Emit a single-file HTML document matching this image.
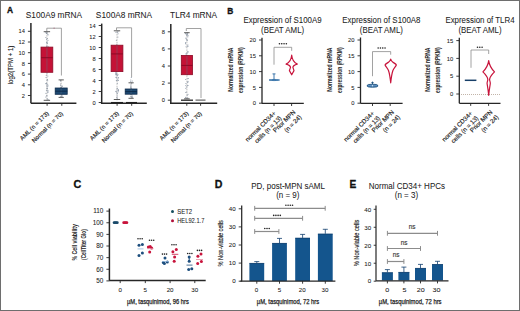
<!DOCTYPE html>
<html><head><meta charset="utf-8"><style>
html,body{margin:0;padding:0;background:#fff;}
body{width:520px;height:311px;overflow:hidden;}
svg{display:block;font-family:"Liberation Sans", sans-serif;}
</style></head><body>
<svg width="520" height="311" viewBox="0 0 520 311">
<rect x="0" y="0" width="520" height="311" fill="#fff"/>
<text x="6.9" y="12.8" font-size="8.4" text-anchor="start" font-weight="bold" fill="#111"  stroke="#111" stroke-width="0.3">A</text>
<text x="227.2" y="13.9" font-size="8.4" text-anchor="start" font-weight="bold" fill="#111"  stroke="#111" stroke-width="0.3">B</text>
<text x="73.6" y="188.1" font-size="10.8" text-anchor="start" font-weight="bold" fill="#111"  stroke="#111" stroke-width="0.3">C</text>
<text x="214.8" y="188.3" font-size="10.6" text-anchor="start" font-weight="bold" fill="#111"  stroke="#111" stroke-width="0.3">D</text>
<text x="349.4" y="188.3" font-size="10.2" text-anchor="start" font-weight="bold" fill="#111"  stroke="#111" stroke-width="0.3">E</text>
<text x="53.9" y="17.9" font-size="9.13" text-anchor="middle" font-weight="normal" fill="#222"  stroke="#222" stroke-width="0.05" textLength="56.28" lengthAdjust="spacingAndGlyphs">S100A9 mRNA</text>
<line x1="30.9" y1="23" x2="30.9" y2="103.2" stroke="#262626" stroke-width="1.5" />
<line x1="27.9" y1="95.5" x2="30.9" y2="95.5" stroke="#262626" stroke-width="0.9" />
<text x="24.9" y="97.609" font-size="5.7" text-anchor="end" font-weight="normal" fill="#222"  stroke="#222" stroke-width="0.06">2</text>
<line x1="27.9" y1="84.80000000000001" x2="30.9" y2="84.80000000000001" stroke="#262626" stroke-width="0.9" />
<text x="24.9" y="86.909" font-size="5.7" text-anchor="end" font-weight="normal" fill="#222"  stroke="#222" stroke-width="0.06">4</text>
<line x1="27.9" y1="74.10000000000001" x2="30.9" y2="74.10000000000001" stroke="#262626" stroke-width="0.9" />
<text x="24.9" y="76.209" font-size="5.7" text-anchor="end" font-weight="normal" fill="#222"  stroke="#222" stroke-width="0.06">6</text>
<line x1="27.9" y1="63.400000000000006" x2="30.9" y2="63.400000000000006" stroke="#262626" stroke-width="0.9" />
<text x="24.9" y="65.509" font-size="5.7" text-anchor="end" font-weight="normal" fill="#222"  stroke="#222" stroke-width="0.06">8</text>
<line x1="27.9" y1="52.7" x2="30.9" y2="52.7" stroke="#262626" stroke-width="0.9" />
<text x="24.9" y="54.809000000000005" font-size="5.7" text-anchor="end" font-weight="normal" fill="#222"  stroke="#222" stroke-width="0.06">10</text>
<line x1="27.9" y1="42.000000000000014" x2="30.9" y2="42.000000000000014" stroke="#262626" stroke-width="0.9" />
<text x="24.9" y="44.109000000000016" font-size="5.7" text-anchor="end" font-weight="normal" fill="#222"  stroke="#222" stroke-width="0.06">12</text>
<line x1="27.9" y1="31.30000000000001" x2="30.9" y2="31.30000000000001" stroke="#262626" stroke-width="0.9" />
<text x="24.9" y="33.40900000000001" font-size="5.7" text-anchor="end" font-weight="normal" fill="#222"  stroke="#222" stroke-width="0.06">14</text>
<circle cx="48.00" cy="40.27" r="0.55" fill="#8f9bab"/>
<circle cx="46.46" cy="83.70" r="0.55" fill="#8f9bab"/>
<circle cx="46.97" cy="65.19" r="0.55" fill="#8f9bab"/>
<circle cx="47.85" cy="75.96" r="0.55" fill="#8f9bab"/>
<circle cx="45.87" cy="37.48" r="0.55" fill="#8f9bab"/>
<circle cx="46.93" cy="88.67" r="0.55" fill="#8f9bab"/>
<circle cx="45.81" cy="83.60" r="0.55" fill="#8f9bab"/>
<circle cx="47.68" cy="61.73" r="0.55" fill="#8f9bab"/>
<circle cx="48.26" cy="46.78" r="0.55" fill="#8f9bab"/>
<circle cx="45.88" cy="93.20" r="0.55" fill="#8f9bab"/>
<circle cx="47.21" cy="32.76" r="0.55" fill="#8f9bab"/>
<circle cx="46.79" cy="95.80" r="0.55" fill="#8f9bab"/>
<circle cx="46.90" cy="45.95" r="0.55" fill="#8f9bab"/>
<circle cx="46.38" cy="33.00" r="0.55" fill="#8f9bab"/>
<circle cx="47.09" cy="61.21" r="0.55" fill="#8f9bab"/>
<circle cx="46.40" cy="47.08" r="0.55" fill="#8f9bab"/>
<circle cx="46.99" cy="46.10" r="0.55" fill="#8f9bab"/>
<circle cx="45.86" cy="50.99" r="0.55" fill="#8f9bab"/>
<circle cx="47.25" cy="88.79" r="0.55" fill="#8f9bab"/>
<circle cx="46.28" cy="75.32" r="0.55" fill="#8f9bab"/>
<circle cx="48.04" cy="99.49" r="0.55" fill="#8f9bab"/>
<circle cx="46.67" cy="39.34" r="0.55" fill="#8f9bab"/>
<circle cx="47.65" cy="80.78" r="0.55" fill="#8f9bab"/>
<circle cx="46.90" cy="95.61" r="0.55" fill="#8f9bab"/>
<circle cx="47.54" cy="88.27" r="0.55" fill="#8f9bab"/>
<circle cx="47.33" cy="51.93" r="0.55" fill="#8f9bab"/>
<circle cx="48.00" cy="91.89" r="0.55" fill="#8f9bab"/>
<circle cx="47.33" cy="65.86" r="0.55" fill="#8f9bab"/>
<circle cx="46.43" cy="33.38" r="0.55" fill="#8f9bab"/>
<circle cx="46.88" cy="86.02" r="0.55" fill="#8f9bab"/>
<circle cx="47.23" cy="42.94" r="0.55" fill="#8f9bab"/>
<circle cx="47.55" cy="79.51" r="0.55" fill="#8f9bab"/>
<circle cx="46.94" cy="56.85" r="0.55" fill="#8f9bab"/>
<circle cx="47.82" cy="66.08" r="0.55" fill="#8f9bab"/>
<circle cx="46.82" cy="66.94" r="0.55" fill="#8f9bab"/>
<circle cx="45.88" cy="64.79" r="0.55" fill="#8f9bab"/>
<circle cx="47.63" cy="34.00" r="0.55" fill="#8f9bab"/>
<circle cx="47.34" cy="98.84" r="0.55" fill="#8f9bab"/>
<circle cx="46.24" cy="58.16" r="0.55" fill="#8f9bab"/>
<circle cx="48.35" cy="65.65" r="0.55" fill="#8f9bab"/>
<circle cx="47.20" cy="84.17" r="0.55" fill="#8f9bab"/>
<circle cx="46.40" cy="90.36" r="0.55" fill="#8f9bab"/>
<circle cx="48.28" cy="66.45" r="0.55" fill="#8f9bab"/>
<circle cx="46.99" cy="70.87" r="0.55" fill="#8f9bab"/>
<circle cx="47.22" cy="49.58" r="0.55" fill="#8f9bab"/>
<circle cx="45.81" cy="97.04" r="0.55" fill="#8f9bab"/>
<circle cx="47.93" cy="85.07" r="0.55" fill="#8f9bab"/>
<circle cx="47.73" cy="92.15" r="0.55" fill="#8f9bab"/>
<circle cx="47.15" cy="86.83" r="0.55" fill="#8f9bab"/>
<circle cx="46.91" cy="69.73" r="0.55" fill="#8f9bab"/>
<circle cx="48.06" cy="34.87" r="0.55" fill="#8f9bab"/>
<circle cx="46.32" cy="70.33" r="0.55" fill="#8f9bab"/>
<circle cx="47.06" cy="65.83" r="0.55" fill="#8f9bab"/>
<circle cx="46.70" cy="55.62" r="0.55" fill="#8f9bab"/>
<circle cx="47.42" cy="68.16" r="0.55" fill="#8f9bab"/>
<circle cx="46.99" cy="73.26" r="0.55" fill="#8f9bab"/>
<circle cx="46.40" cy="32.93" r="0.55" fill="#8f9bab"/>
<circle cx="47.32" cy="43.23" r="0.55" fill="#8f9bab"/>
<circle cx="47.88" cy="90.41" r="0.55" fill="#8f9bab"/>
<circle cx="47.92" cy="86.00" r="0.55" fill="#8f9bab"/>
<circle cx="47.99" cy="48.62" r="0.55" fill="#8f9bab"/>
<circle cx="46.02" cy="77.44" r="0.55" fill="#8f9bab"/>
<circle cx="45.84" cy="32.15" r="0.55" fill="#8f9bab"/>
<circle cx="46.45" cy="83.14" r="0.55" fill="#8f9bab"/>
<circle cx="47.42" cy="38.55" r="0.55" fill="#8f9bab"/>
<circle cx="45.98" cy="54.77" r="0.55" fill="#8f9bab"/>
<circle cx="47.17" cy="42.01" r="0.55" fill="#8f9bab"/>
<circle cx="46.51" cy="42.60" r="0.55" fill="#8f9bab"/>
<circle cx="46.98" cy="80.10" r="0.55" fill="#8f9bab"/>
<circle cx="47.03" cy="53.22" r="0.55" fill="#8f9bab"/>
<line x1="46.9" y1="31.7" x2="46.9" y2="47.1" stroke="#9a9a9a" stroke-width="0.8" stroke-dasharray="0.8 0.8"/>
<line x1="46.9" y1="72.3" x2="46.9" y2="100.3" stroke="#9a9a9a" stroke-width="0.8" stroke-dasharray="0.8 0.8"/>
<line x1="43.699999999999996" y1="31.7" x2="50.1" y2="31.7" stroke="#4a4a4a" stroke-width="0.9" />
<line x1="43.699999999999996" y1="100.3" x2="50.1" y2="100.3" stroke="#4a4a4a" stroke-width="0.9" />
<rect x="41.0" y="47.1" width="11.8" height="25.199999999999996" fill="#c41236" stroke="#8c0a26" stroke-width="0.8"/>
<line x1="46.9" y1="47.6" x2="46.9" y2="71.8" stroke="#607080" stroke-width="1.8" stroke-opacity="0.25"/>
<line x1="41.0" y1="57.7" x2="52.8" y2="57.7" stroke="#8c0a26" stroke-width="1.0" />
<circle cx="62.21" cy="96.25" r="0.55" fill="#8f9bab"/>
<circle cx="60.65" cy="80.96" r="0.55" fill="#8f9bab"/>
<circle cx="61.82" cy="94.20" r="0.55" fill="#8f9bab"/>
<circle cx="61.05" cy="91.39" r="0.55" fill="#8f9bab"/>
<circle cx="61.59" cy="90.30" r="0.55" fill="#8f9bab"/>
<circle cx="60.79" cy="89.88" r="0.55" fill="#8f9bab"/>
<circle cx="61.21" cy="87.32" r="0.55" fill="#8f9bab"/>
<circle cx="62.29" cy="92.29" r="0.55" fill="#8f9bab"/>
<circle cx="61.48" cy="96.14" r="0.55" fill="#8f9bab"/>
<circle cx="60.98" cy="87.56" r="0.55" fill="#8f9bab"/>
<circle cx="60.55" cy="80.61" r="0.55" fill="#8f9bab"/>
<circle cx="61.07" cy="87.90" r="0.55" fill="#8f9bab"/>
<circle cx="62.11" cy="86.46" r="0.55" fill="#8f9bab"/>
<circle cx="61.51" cy="88.94" r="0.55" fill="#8f9bab"/>
<circle cx="60.54" cy="84.01" r="0.55" fill="#8f9bab"/>
<circle cx="60.75" cy="85.53" r="0.55" fill="#8f9bab"/>
<circle cx="62.30" cy="88.67" r="0.55" fill="#8f9bab"/>
<circle cx="60.83" cy="91.47" r="0.55" fill="#8f9bab"/>
<circle cx="61.93" cy="95.19" r="0.55" fill="#8f9bab"/>
<circle cx="62.13" cy="92.48" r="0.55" fill="#8f9bab"/>
<circle cx="61.92" cy="92.97" r="0.55" fill="#8f9bab"/>
<circle cx="62.27" cy="86.01" r="0.55" fill="#8f9bab"/>
<circle cx="60.79" cy="96.35" r="0.55" fill="#8f9bab"/>
<circle cx="61.79" cy="92.82" r="0.55" fill="#8f9bab"/>
<circle cx="61.45" cy="87.84" r="0.55" fill="#8f9bab"/>
<line x1="61.2" y1="79.9" x2="61.2" y2="88" stroke="#9a9a9a" stroke-width="0.8" stroke-dasharray="0.8 0.8"/>
<line x1="61.2" y1="94.3" x2="61.2" y2="97.4" stroke="#9a9a9a" stroke-width="0.8" stroke-dasharray="0.8 0.8"/>
<line x1="58.6" y1="79.9" x2="63.800000000000004" y2="79.9" stroke="#4a4a4a" stroke-width="0.9" />
<line x1="58.6" y1="97.4" x2="63.800000000000004" y2="97.4" stroke="#4a4a4a" stroke-width="0.9" />
<rect x="55.2" y="88" width="12.0" height="6.299999999999997" fill="#1d4870" stroke="#0f2c4c" stroke-width="0.8"/>
<line x1="61.2" y1="88.5" x2="61.2" y2="93.8" stroke="#607080" stroke-width="1.8" stroke-opacity="0.25"/>
<line x1="55.2" y1="91.2" x2="67.2" y2="91.2" stroke="#0f2c4c" stroke-width="1.0" />
<line x1="30.9" y1="103.2" x2="76.4" y2="103.2" stroke="#262626" stroke-width="1.5" />
<line x1="47.1" y1="103.2" x2="47.1" y2="105.8" stroke="#262626" stroke-width="0.9" />
<line x1="61.8" y1="103.2" x2="61.8" y2="105.8" stroke="#262626" stroke-width="0.9" />
<line x1="46.8" y1="28.2" x2="61.4" y2="28.2" stroke="#8a8a8a" stroke-width="0.8" />
<line x1="61.4" y1="28.2" x2="61.4" y2="75.5" stroke="#8a8a8a" stroke-width="0.8" />
<line x1="46.8" y1="28.2" x2="46.8" y2="31" stroke="#8a8a8a" stroke-width="0.8" />
<circle cx="54.10" cy="28.2" r="0.7" fill="#b08090"/>
<g transform="translate(49.2 113.8) rotate(-45)">
<text x="0" y="0.0" font-size="6.0" text-anchor="end" fill="#222" stroke="#222" stroke-width="0.15">AML (n = 173)</text>
</g>
<g transform="translate(63.4 114.0) rotate(-45)">
<text x="0" y="0.0" font-size="5.9" text-anchor="end" fill="#222" stroke="#222" stroke-width="0.15">Normal (n = 70)</text>
</g>
<text x="12.9" y="65.0" font-size="6.4" text-anchor="middle" font-weight="normal" fill="#222" transform="rotate(-90 12.9 65.0)" textLength="38.6" lengthAdjust="spacingAndGlyphs" stroke="#222" stroke-width="0.12">log2(TPM + 1)</text>
<text x="124" y="17.9" font-size="9.13" text-anchor="middle" font-weight="normal" fill="#222"  stroke="#222" stroke-width="0.05" textLength="56.28" lengthAdjust="spacingAndGlyphs">S100A8 mRNA</text>
<line x1="101.7" y1="23.6" x2="101.7" y2="103.2" stroke="#262626" stroke-width="1.5" />
<line x1="98.7" y1="102.5" x2="101.7" y2="102.5" stroke="#262626" stroke-width="0.9" />
<text x="95.7" y="104.609" font-size="5.7" text-anchor="end" font-weight="normal" fill="#222"  stroke="#222" stroke-width="0.06">0</text>
<line x1="98.7" y1="91.5" x2="101.7" y2="91.5" stroke="#262626" stroke-width="0.9" />
<text x="95.7" y="93.609" font-size="5.7" text-anchor="end" font-weight="normal" fill="#222"  stroke="#222" stroke-width="0.06">2</text>
<line x1="98.7" y1="80.5" x2="101.7" y2="80.5" stroke="#262626" stroke-width="0.9" />
<text x="95.7" y="82.609" font-size="5.7" text-anchor="end" font-weight="normal" fill="#222"  stroke="#222" stroke-width="0.06">4</text>
<line x1="98.7" y1="69.5" x2="101.7" y2="69.5" stroke="#262626" stroke-width="0.9" />
<text x="95.7" y="71.609" font-size="5.7" text-anchor="end" font-weight="normal" fill="#222"  stroke="#222" stroke-width="0.06">6</text>
<line x1="98.7" y1="58.5" x2="101.7" y2="58.5" stroke="#262626" stroke-width="0.9" />
<text x="95.7" y="60.609" font-size="5.7" text-anchor="end" font-weight="normal" fill="#222"  stroke="#222" stroke-width="0.06">8</text>
<line x1="98.7" y1="47.5" x2="101.7" y2="47.5" stroke="#262626" stroke-width="0.9" />
<text x="95.7" y="49.609" font-size="5.7" text-anchor="end" font-weight="normal" fill="#222"  stroke="#222" stroke-width="0.06">10</text>
<line x1="98.7" y1="36.5" x2="101.7" y2="36.5" stroke="#262626" stroke-width="0.9" />
<text x="95.7" y="38.609" font-size="5.7" text-anchor="end" font-weight="normal" fill="#222"  stroke="#222" stroke-width="0.06">12</text>
<line x1="98.7" y1="25.5" x2="101.7" y2="25.5" stroke="#262626" stroke-width="0.9" />
<text x="95.7" y="27.609" font-size="5.7" text-anchor="end" font-weight="normal" fill="#222"  stroke="#222" stroke-width="0.06">14</text>
<circle cx="117.21" cy="47.27" r="0.55" fill="#8f9bab"/>
<circle cx="117.37" cy="56.40" r="0.55" fill="#8f9bab"/>
<circle cx="115.97" cy="74.10" r="0.55" fill="#8f9bab"/>
<circle cx="117.98" cy="31.71" r="0.55" fill="#8f9bab"/>
<circle cx="116.41" cy="48.75" r="0.55" fill="#8f9bab"/>
<circle cx="117.02" cy="99.70" r="0.55" fill="#8f9bab"/>
<circle cx="117.04" cy="88.68" r="0.55" fill="#8f9bab"/>
<circle cx="116.19" cy="75.02" r="0.55" fill="#8f9bab"/>
<circle cx="118.06" cy="74.73" r="0.55" fill="#8f9bab"/>
<circle cx="117.73" cy="67.00" r="0.55" fill="#8f9bab"/>
<circle cx="115.97" cy="77.26" r="0.55" fill="#8f9bab"/>
<circle cx="117.34" cy="83.27" r="0.55" fill="#8f9bab"/>
<circle cx="115.88" cy="51.65" r="0.55" fill="#8f9bab"/>
<circle cx="117.03" cy="90.69" r="0.55" fill="#8f9bab"/>
<circle cx="118.08" cy="80.54" r="0.55" fill="#8f9bab"/>
<circle cx="118.19" cy="80.22" r="0.55" fill="#8f9bab"/>
<circle cx="117.88" cy="58.13" r="0.55" fill="#8f9bab"/>
<circle cx="118.23" cy="61.57" r="0.55" fill="#8f9bab"/>
<circle cx="116.05" cy="91.62" r="0.55" fill="#8f9bab"/>
<circle cx="116.36" cy="40.21" r="0.55" fill="#8f9bab"/>
<circle cx="116.93" cy="97.61" r="0.55" fill="#8f9bab"/>
<circle cx="116.58" cy="74.16" r="0.55" fill="#8f9bab"/>
<circle cx="116.80" cy="65.90" r="0.55" fill="#8f9bab"/>
<circle cx="117.32" cy="55.08" r="0.55" fill="#8f9bab"/>
<circle cx="118.15" cy="71.23" r="0.55" fill="#8f9bab"/>
<circle cx="118.22" cy="77.99" r="0.55" fill="#8f9bab"/>
<circle cx="118.38" cy="90.06" r="0.55" fill="#8f9bab"/>
<circle cx="116.22" cy="77.25" r="0.55" fill="#8f9bab"/>
<circle cx="118.31" cy="90.36" r="0.55" fill="#8f9bab"/>
<circle cx="117.28" cy="93.40" r="0.55" fill="#8f9bab"/>
<circle cx="116.35" cy="80.20" r="0.55" fill="#8f9bab"/>
<circle cx="117.29" cy="88.35" r="0.55" fill="#8f9bab"/>
<circle cx="115.96" cy="50.52" r="0.55" fill="#8f9bab"/>
<circle cx="118.37" cy="89.89" r="0.55" fill="#8f9bab"/>
<circle cx="117.88" cy="36.93" r="0.55" fill="#8f9bab"/>
<circle cx="116.19" cy="59.20" r="0.55" fill="#8f9bab"/>
<circle cx="117.80" cy="51.14" r="0.55" fill="#8f9bab"/>
<circle cx="115.91" cy="91.20" r="0.55" fill="#8f9bab"/>
<circle cx="115.92" cy="73.33" r="0.55" fill="#8f9bab"/>
<circle cx="116.66" cy="80.52" r="0.55" fill="#8f9bab"/>
<circle cx="118.35" cy="91.76" r="0.55" fill="#8f9bab"/>
<circle cx="118.40" cy="65.78" r="0.55" fill="#8f9bab"/>
<circle cx="116.00" cy="52.23" r="0.55" fill="#8f9bab"/>
<circle cx="115.88" cy="72.30" r="0.55" fill="#8f9bab"/>
<circle cx="116.86" cy="44.46" r="0.55" fill="#8f9bab"/>
<circle cx="116.21" cy="73.04" r="0.55" fill="#8f9bab"/>
<circle cx="118.06" cy="33.74" r="0.55" fill="#8f9bab"/>
<circle cx="118.29" cy="52.52" r="0.55" fill="#8f9bab"/>
<circle cx="116.78" cy="92.85" r="0.55" fill="#8f9bab"/>
<circle cx="117.15" cy="62.66" r="0.55" fill="#8f9bab"/>
<circle cx="117.35" cy="75.36" r="0.55" fill="#8f9bab"/>
<circle cx="117.41" cy="69.50" r="0.55" fill="#8f9bab"/>
<circle cx="117.12" cy="95.89" r="0.55" fill="#8f9bab"/>
<circle cx="117.67" cy="60.64" r="0.55" fill="#8f9bab"/>
<circle cx="116.58" cy="47.24" r="0.55" fill="#8f9bab"/>
<circle cx="117.15" cy="98.46" r="0.55" fill="#8f9bab"/>
<circle cx="115.83" cy="68.75" r="0.55" fill="#8f9bab"/>
<circle cx="117.31" cy="59.53" r="0.55" fill="#8f9bab"/>
<circle cx="117.40" cy="32.19" r="0.55" fill="#8f9bab"/>
<circle cx="115.96" cy="74.55" r="0.55" fill="#8f9bab"/>
<circle cx="117.01" cy="74.21" r="0.55" fill="#8f9bab"/>
<circle cx="116.72" cy="77.81" r="0.55" fill="#8f9bab"/>
<circle cx="117.72" cy="79.72" r="0.55" fill="#8f9bab"/>
<circle cx="115.96" cy="32.34" r="0.55" fill="#8f9bab"/>
<circle cx="118.30" cy="77.58" r="0.55" fill="#8f9bab"/>
<circle cx="116.99" cy="48.18" r="0.55" fill="#8f9bab"/>
<circle cx="116.63" cy="71.81" r="0.55" fill="#8f9bab"/>
<circle cx="116.61" cy="55.99" r="0.55" fill="#8f9bab"/>
<circle cx="117.35" cy="56.35" r="0.55" fill="#8f9bab"/>
<circle cx="116.78" cy="51.59" r="0.55" fill="#8f9bab"/>
<line x1="117.0" y1="30.8" x2="117.0" y2="45.2" stroke="#9a9a9a" stroke-width="0.8" stroke-dasharray="0.8 0.8"/>
<line x1="117.0" y1="71.6" x2="117.0" y2="99.5" stroke="#9a9a9a" stroke-width="0.8" stroke-dasharray="0.8 0.8"/>
<line x1="113.8" y1="30.8" x2="120.2" y2="30.8" stroke="#4a4a4a" stroke-width="0.9" />
<line x1="113.8" y1="99.5" x2="120.2" y2="99.5" stroke="#4a4a4a" stroke-width="0.9" />
<rect x="111.1" y="45.2" width="11.8" height="26.39999999999999" fill="#c41236" stroke="#8c0a26" stroke-width="0.8"/>
<line x1="117.0" y1="45.7" x2="117.0" y2="71.1" stroke="#607080" stroke-width="1.8" stroke-opacity="0.25"/>
<line x1="111.1" y1="53.9" x2="122.9" y2="53.9" stroke="#8c0a26" stroke-width="1.0" />
<circle cx="130.79" cy="81.43" r="0.55" fill="#8f9bab"/>
<circle cx="130.88" cy="85.11" r="0.55" fill="#8f9bab"/>
<circle cx="131.32" cy="77.53" r="0.55" fill="#8f9bab"/>
<circle cx="132.04" cy="97.11" r="0.55" fill="#8f9bab"/>
<circle cx="131.00" cy="93.60" r="0.55" fill="#8f9bab"/>
<circle cx="131.10" cy="88.34" r="0.55" fill="#8f9bab"/>
<circle cx="130.79" cy="79.97" r="0.55" fill="#8f9bab"/>
<circle cx="132.27" cy="80.93" r="0.55" fill="#8f9bab"/>
<circle cx="132.05" cy="95.07" r="0.55" fill="#8f9bab"/>
<circle cx="130.95" cy="94.41" r="0.55" fill="#8f9bab"/>
<circle cx="131.73" cy="83.13" r="0.55" fill="#8f9bab"/>
<circle cx="132.14" cy="92.83" r="0.55" fill="#8f9bab"/>
<circle cx="130.76" cy="96.24" r="0.55" fill="#8f9bab"/>
<circle cx="131.81" cy="89.93" r="0.55" fill="#8f9bab"/>
<circle cx="130.92" cy="87.64" r="0.55" fill="#8f9bab"/>
<circle cx="130.76" cy="86.89" r="0.55" fill="#8f9bab"/>
<circle cx="132.16" cy="97.50" r="0.55" fill="#8f9bab"/>
<circle cx="131.14" cy="88.60" r="0.55" fill="#8f9bab"/>
<circle cx="131.63" cy="96.90" r="0.55" fill="#8f9bab"/>
<circle cx="132.13" cy="96.29" r="0.55" fill="#8f9bab"/>
<line x1="131.1" y1="82.8" x2="131.1" y2="89.0" stroke="#9a9a9a" stroke-width="0.8" stroke-dasharray="0.8 0.8"/>
<line x1="131.1" y1="94.2" x2="131.1" y2="98.3" stroke="#9a9a9a" stroke-width="0.8" stroke-dasharray="0.8 0.8"/>
<line x1="128.5" y1="82.8" x2="133.7" y2="82.8" stroke="#4a4a4a" stroke-width="0.9" />
<line x1="128.5" y1="98.3" x2="133.7" y2="98.3" stroke="#4a4a4a" stroke-width="0.9" />
<rect x="125.19999999999999" y="89.0" width="11.8" height="5.200000000000003" fill="#1d4870" stroke="#0f2c4c" stroke-width="0.8"/>
<line x1="131.1" y1="89.5" x2="131.1" y2="93.7" stroke="#607080" stroke-width="1.8" stroke-opacity="0.25"/>
<line x1="125.19999999999999" y1="91.6" x2="137.0" y2="91.6" stroke="#0f2c4c" stroke-width="1.0" />
<line x1="100.9" y1="103.2" x2="146.8" y2="103.2" stroke="#262626" stroke-width="1.5" />
<line x1="117.1" y1="103.2" x2="117.1" y2="105.8" stroke="#262626" stroke-width="0.9" />
<line x1="131.7" y1="103.2" x2="131.7" y2="105.8" stroke="#262626" stroke-width="0.9" />
<line x1="116.5" y1="27.8" x2="131.6" y2="27.8" stroke="#8a8a8a" stroke-width="0.8" />
<line x1="131.6" y1="27.8" x2="131.6" y2="77" stroke="#8a8a8a" stroke-width="0.8" />
<line x1="116.5" y1="27.8" x2="116.5" y2="30" stroke="#8a8a8a" stroke-width="0.8" />
<line x1="111" y1="102.6" x2="123" y2="102.6" stroke="#222" stroke-width="1.3" />
<line x1="126" y1="102.6" x2="137" y2="102.6" stroke="#222" stroke-width="1.3" />
<g transform="translate(119.19999999999999 113.8) rotate(-45)">
<text x="0" y="0.0" font-size="6.0" text-anchor="end" fill="#222" stroke="#222" stroke-width="0.15">AML (n = 173)</text>
</g>
<g transform="translate(133.29999999999998 114.0) rotate(-45)">
<text x="0" y="0.0" font-size="5.9" text-anchor="end" fill="#222" stroke="#222" stroke-width="0.15">Normal (n = 70)</text>
</g>
<text x="193.6" y="17.9" font-size="9.13" text-anchor="middle" font-weight="normal" fill="#222"  stroke="#222" stroke-width="0.05" textLength="47.04" lengthAdjust="spacingAndGlyphs">TLR4 mRNA</text>
<line x1="170.8" y1="23.9" x2="170.8" y2="103.2" stroke="#262626" stroke-width="1.5" />
<line x1="167.8" y1="100.2" x2="170.8" y2="100.2" stroke="#262626" stroke-width="0.9" />
<text x="164.8" y="102.309" font-size="5.7" text-anchor="end" font-weight="normal" fill="#222"  stroke="#222" stroke-width="0.06">0</text>
<line x1="167.8" y1="83.1" x2="170.8" y2="83.1" stroke="#262626" stroke-width="0.9" />
<text x="164.8" y="85.20899999999999" font-size="5.7" text-anchor="end" font-weight="normal" fill="#222"  stroke="#222" stroke-width="0.06">2</text>
<line x1="167.8" y1="66.0" x2="170.8" y2="66.0" stroke="#262626" stroke-width="0.9" />
<text x="164.8" y="68.109" font-size="5.7" text-anchor="end" font-weight="normal" fill="#222"  stroke="#222" stroke-width="0.06">4</text>
<line x1="167.8" y1="48.9" x2="170.8" y2="48.9" stroke="#262626" stroke-width="0.9" />
<text x="164.8" y="51.009" font-size="5.7" text-anchor="end" font-weight="normal" fill="#222"  stroke="#222" stroke-width="0.06">6</text>
<line x1="167.8" y1="31.799999999999997" x2="170.8" y2="31.799999999999997" stroke="#262626" stroke-width="0.9" />
<text x="164.8" y="33.909" font-size="5.7" text-anchor="end" font-weight="normal" fill="#222"  stroke="#222" stroke-width="0.06">8</text>
<circle cx="187.43" cy="74.11" r="0.55" fill="#8f9bab"/>
<circle cx="187.95" cy="85.48" r="0.55" fill="#8f9bab"/>
<circle cx="187.90" cy="81.83" r="0.55" fill="#8f9bab"/>
<circle cx="186.71" cy="34.91" r="0.55" fill="#8f9bab"/>
<circle cx="187.19" cy="95.26" r="0.55" fill="#8f9bab"/>
<circle cx="185.79" cy="92.46" r="0.55" fill="#8f9bab"/>
<circle cx="186.14" cy="63.96" r="0.55" fill="#8f9bab"/>
<circle cx="186.99" cy="68.89" r="0.55" fill="#8f9bab"/>
<circle cx="186.06" cy="33.87" r="0.55" fill="#8f9bab"/>
<circle cx="187.88" cy="51.45" r="0.55" fill="#8f9bab"/>
<circle cx="185.91" cy="83.54" r="0.55" fill="#8f9bab"/>
<circle cx="185.86" cy="85.61" r="0.55" fill="#8f9bab"/>
<circle cx="185.83" cy="73.75" r="0.55" fill="#8f9bab"/>
<circle cx="187.77" cy="33.12" r="0.55" fill="#8f9bab"/>
<circle cx="186.06" cy="46.82" r="0.55" fill="#8f9bab"/>
<circle cx="187.77" cy="97.84" r="0.55" fill="#8f9bab"/>
<circle cx="188.00" cy="52.09" r="0.55" fill="#8f9bab"/>
<circle cx="187.26" cy="68.59" r="0.55" fill="#8f9bab"/>
<circle cx="187.95" cy="46.52" r="0.55" fill="#8f9bab"/>
<circle cx="188.01" cy="78.58" r="0.55" fill="#8f9bab"/>
<circle cx="186.28" cy="91.99" r="0.55" fill="#8f9bab"/>
<circle cx="185.93" cy="56.84" r="0.55" fill="#8f9bab"/>
<circle cx="185.67" cy="42.62" r="0.55" fill="#8f9bab"/>
<circle cx="187.07" cy="52.89" r="0.55" fill="#8f9bab"/>
<circle cx="187.26" cy="33.22" r="0.55" fill="#8f9bab"/>
<circle cx="186.31" cy="55.30" r="0.55" fill="#8f9bab"/>
<circle cx="186.75" cy="87.02" r="0.55" fill="#8f9bab"/>
<circle cx="186.75" cy="53.84" r="0.55" fill="#8f9bab"/>
<circle cx="185.65" cy="79.51" r="0.55" fill="#8f9bab"/>
<circle cx="185.56" cy="97.36" r="0.55" fill="#8f9bab"/>
<circle cx="187.70" cy="82.49" r="0.55" fill="#8f9bab"/>
<circle cx="187.55" cy="34.19" r="0.55" fill="#8f9bab"/>
<circle cx="187.00" cy="57.17" r="0.55" fill="#8f9bab"/>
<circle cx="185.62" cy="33.60" r="0.55" fill="#8f9bab"/>
<circle cx="187.98" cy="44.94" r="0.55" fill="#8f9bab"/>
<circle cx="187.46" cy="45.97" r="0.55" fill="#8f9bab"/>
<circle cx="187.95" cy="94.36" r="0.55" fill="#8f9bab"/>
<circle cx="186.42" cy="55.73" r="0.55" fill="#8f9bab"/>
<circle cx="187.52" cy="67.63" r="0.55" fill="#8f9bab"/>
<circle cx="187.45" cy="40.13" r="0.55" fill="#8f9bab"/>
<circle cx="187.74" cy="85.62" r="0.55" fill="#8f9bab"/>
<circle cx="187.96" cy="35.42" r="0.55" fill="#8f9bab"/>
<circle cx="186.39" cy="39.02" r="0.55" fill="#8f9bab"/>
<circle cx="187.89" cy="73.31" r="0.55" fill="#8f9bab"/>
<circle cx="187.90" cy="55.44" r="0.55" fill="#8f9bab"/>
<circle cx="186.31" cy="68.98" r="0.55" fill="#8f9bab"/>
<circle cx="185.96" cy="53.91" r="0.55" fill="#8f9bab"/>
<circle cx="185.89" cy="38.16" r="0.55" fill="#8f9bab"/>
<circle cx="188.09" cy="78.49" r="0.55" fill="#8f9bab"/>
<circle cx="185.63" cy="43.66" r="0.55" fill="#8f9bab"/>
<circle cx="186.89" cy="98.12" r="0.55" fill="#8f9bab"/>
<circle cx="186.12" cy="59.79" r="0.55" fill="#8f9bab"/>
<circle cx="187.65" cy="72.20" r="0.55" fill="#8f9bab"/>
<circle cx="186.60" cy="63.07" r="0.55" fill="#8f9bab"/>
<circle cx="187.88" cy="36.68" r="0.55" fill="#8f9bab"/>
<circle cx="186.78" cy="35.16" r="0.55" fill="#8f9bab"/>
<circle cx="185.84" cy="88.34" r="0.55" fill="#8f9bab"/>
<circle cx="187.97" cy="81.29" r="0.55" fill="#8f9bab"/>
<circle cx="187.55" cy="74.61" r="0.55" fill="#8f9bab"/>
<circle cx="186.63" cy="40.04" r="0.55" fill="#8f9bab"/>
<line x1="186.9" y1="32.7" x2="186.9" y2="55.4" stroke="#9a9a9a" stroke-width="0.8" stroke-dasharray="0.8 0.8"/>
<line x1="186.9" y1="74.7" x2="186.9" y2="98.8" stroke="#9a9a9a" stroke-width="0.8" stroke-dasharray="0.8 0.8"/>
<line x1="184.1" y1="32.7" x2="189.70000000000002" y2="32.7" stroke="#4a4a4a" stroke-width="0.9" />
<line x1="184.1" y1="98.8" x2="189.70000000000002" y2="98.8" stroke="#4a4a4a" stroke-width="0.9" />
<rect x="181.3" y="55.4" width="11.2" height="19.300000000000004" fill="#c41236" stroke="#8c0a26" stroke-width="0.8"/>
<line x1="186.9" y1="55.9" x2="186.9" y2="74.2" stroke="#607080" stroke-width="1.8" stroke-opacity="0.25"/>
<line x1="181.3" y1="65.4" x2="192.5" y2="65.4" stroke="#8c0a26" stroke-width="1.0" />
<line x1="181" y1="100.2" x2="193" y2="100.2" stroke="#222" stroke-width="1.3" />
<line x1="195.5" y1="100.1" x2="205.5" y2="100.1" stroke="#444" stroke-width="1.0" />
<line x1="170" y1="103.2" x2="217.2" y2="103.2" stroke="#262626" stroke-width="1.5" />
<line x1="186.8" y1="103.2" x2="186.8" y2="105.8" stroke="#262626" stroke-width="0.9" />
<line x1="200.6" y1="103.2" x2="200.6" y2="105.8" stroke="#262626" stroke-width="0.9" />
<line x1="186.3" y1="28.5" x2="201" y2="28.5" stroke="#8a8a8a" stroke-width="0.8" />
<line x1="201" y1="28.5" x2="201" y2="98" stroke="#8a8a8a" stroke-width="0.8" />
<line x1="186.3" y1="28.5" x2="186.3" y2="31" stroke="#8a8a8a" stroke-width="0.8" />
<g transform="translate(188.9 113.8) rotate(-45)">
<text x="0" y="0.0" font-size="6.0" text-anchor="end" fill="#222" stroke="#222" stroke-width="0.15">AML (n = 173)</text>
</g>
<g transform="translate(202.2 114.0) rotate(-45)">
<text x="0" y="0.0" font-size="5.9" text-anchor="end" fill="#222" stroke="#222" stroke-width="0.15">Normal (n = 70)</text>
</g>
<text x="282.6" y="22.9" font-size="8.85" text-anchor="middle" font-weight="normal" fill="#222"  stroke="#222" stroke-width="0.05" textLength="78.17" lengthAdjust="spacingAndGlyphs">Expression of S100A9</text>
<text x="282.6" y="32.9" font-size="8.85" text-anchor="middle" font-weight="normal" fill="#222"  stroke="#222" stroke-width="0.05" textLength="43.17" lengthAdjust="spacingAndGlyphs">(BEAT AML)</text>
<line x1="262" y1="37.7" x2="262" y2="103.4" stroke="#262626" stroke-width="1.3" />
<line x1="259.0" y1="103.2" x2="262" y2="103.2" stroke="#262626" stroke-width="0.9" />
<text x="256.0" y="105.346" font-size="5.8" text-anchor="end" font-weight="normal" fill="#222"  stroke="#222" stroke-width="0.06">0</text>
<line x1="259.0" y1="87.4" x2="262" y2="87.4" stroke="#262626" stroke-width="0.9" />
<text x="256.0" y="89.546" font-size="5.8" text-anchor="end" font-weight="normal" fill="#222"  stroke="#222" stroke-width="0.06">5</text>
<line x1="259.0" y1="71.6" x2="262" y2="71.6" stroke="#262626" stroke-width="0.9" />
<text x="256.0" y="73.746" font-size="5.8" text-anchor="end" font-weight="normal" fill="#222"  stroke="#222" stroke-width="0.06">10</text>
<line x1="259.0" y1="55.8" x2="262" y2="55.8" stroke="#262626" stroke-width="0.9" />
<text x="256.0" y="57.946" font-size="5.8" text-anchor="end" font-weight="normal" fill="#222"  stroke="#222" stroke-width="0.06">15</text>
<line x1="259.0" y1="40.0" x2="262" y2="40.0" stroke="#262626" stroke-width="0.9" />
<text x="256.0" y="42.146" font-size="5.8" text-anchor="end" font-weight="normal" fill="#222"  stroke="#222" stroke-width="0.06">20</text>
<line x1="262" y1="103.4" x2="303.8" y2="103.4" stroke="#262626" stroke-width="1.3" />
<line x1="274" y1="103.4" x2="274" y2="106.0" stroke="#262626" stroke-width="0.9" />
<line x1="291.6" y1="103.4" x2="291.6" y2="106.0" stroke="#262626" stroke-width="0.9" />
<line x1="274" y1="64.7" x2="274" y2="47.3" stroke="#8a8a8a" stroke-width="0.8" />
<line x1="274" y1="47.3" x2="291.7" y2="47.3" stroke="#8a8a8a" stroke-width="0.8" />
<line x1="291.7" y1="47.3" x2="291.7" y2="50.8" stroke="#8a8a8a" stroke-width="0.8" />
<circle cx="279.45" cy="43.7" r="0.8" fill="#222"/>
<circle cx="281.75" cy="43.7" r="0.8" fill="#222"/>
<circle cx="284.05" cy="43.7" r="0.8" fill="#222"/>
<circle cx="286.35" cy="43.7" r="0.8" fill="#222"/>
<path d="M291.7,55.2 C292.0,58.6 292.9,62 297.3,64.1 C293.5,65 293.0,66.2 292.9,67.4 L294.0,70.6 L291.7,74.8 L289.4,70.6 L290.5,67.4 C290.4,66.2 289.9,65 286.09999999999997,64.1 C290.5,62 291.4,58.6 291.7,55.2 Z" fill="#fff" stroke="#c8143c" stroke-width="1.2" stroke-linejoin="round"/>
<line x1="274" y1="80" x2="274" y2="73.9" stroke="#2a6aa3" stroke-width="0.9" />
<line x1="272.5" y1="73.9" x2="275.5" y2="73.9" stroke="#2a6aa3" stroke-width="0.9" />
<path d="M269,80 C272,79.2 276,79.2 279.6,80 C276,80.8 272,80.8 269,80 Z" fill="#2a6aa3" stroke="#2a6aa3" stroke-width="0.8"/>
<text x="233.1" y="69.6" font-size="7.0" text-anchor="middle" font-weight="bold" fill="#222" transform="rotate(-90 233.1 69.6)" textLength="44.3" lengthAdjust="spacingAndGlyphs">Normalized mRNA</text>
<text x="243.2" y="70.2" font-size="7.0" text-anchor="middle" font-weight="bold" fill="#222" transform="rotate(-90 243.2 70.2)" textLength="45.6" lengthAdjust="spacingAndGlyphs">expression (RPKM)</text>
<g transform="translate(276.2 113.7) rotate(-45)">
<text x="0" y="0.0" font-size="6.2" text-anchor="end" fill="#222" stroke="#222" stroke-width="0.15">normal CD34+</text>
<text x="0.8" y="7.5" font-size="6.2" text-anchor="end" fill="#222" stroke="#222" stroke-width="0.15">cells (n = 13)</text>
</g>
<g transform="translate(295.8 112.6) rotate(-45)">
<text x="0" y="0.0" font-size="6.2" text-anchor="end" fill="#222" stroke="#222" stroke-width="0.15">Prior MPN</text>
<text x="0.8" y="7.8" font-size="6.2" text-anchor="end" fill="#222" stroke="#222" stroke-width="0.15">(n = 24)</text>
</g>
<text x="381.4" y="22.9" font-size="8.85" text-anchor="middle" font-weight="normal" fill="#222"  stroke="#222" stroke-width="0.05" textLength="78.17" lengthAdjust="spacingAndGlyphs">Expression of S100A8</text>
<text x="381.4" y="32.9" font-size="8.85" text-anchor="middle" font-weight="normal" fill="#222"  stroke="#222" stroke-width="0.05" textLength="43.17" lengthAdjust="spacingAndGlyphs">(BEAT AML)</text>
<line x1="360.5" y1="37.5" x2="360.5" y2="103.4" stroke="#262626" stroke-width="1.3" />
<line x1="357.5" y1="103.2" x2="360.5" y2="103.2" stroke="#262626" stroke-width="0.9" />
<text x="354.5" y="105.346" font-size="5.8" text-anchor="end" font-weight="normal" fill="#222"  stroke="#222" stroke-width="0.06">0</text>
<line x1="357.5" y1="87.4" x2="360.5" y2="87.4" stroke="#262626" stroke-width="0.9" />
<text x="354.5" y="89.546" font-size="5.8" text-anchor="end" font-weight="normal" fill="#222"  stroke="#222" stroke-width="0.06">5</text>
<line x1="357.5" y1="71.6" x2="360.5" y2="71.6" stroke="#262626" stroke-width="0.9" />
<text x="354.5" y="73.746" font-size="5.8" text-anchor="end" font-weight="normal" fill="#222"  stroke="#222" stroke-width="0.06">10</text>
<line x1="357.5" y1="55.8" x2="360.5" y2="55.8" stroke="#262626" stroke-width="0.9" />
<text x="354.5" y="57.946" font-size="5.8" text-anchor="end" font-weight="normal" fill="#222"  stroke="#222" stroke-width="0.06">15</text>
<line x1="357.5" y1="40.0" x2="360.5" y2="40.0" stroke="#262626" stroke-width="0.9" />
<text x="354.5" y="42.146" font-size="5.8" text-anchor="end" font-weight="normal" fill="#222"  stroke="#222" stroke-width="0.06">20</text>
<line x1="360.5" y1="103.4" x2="402.6" y2="103.4" stroke="#262626" stroke-width="1.3" />
<line x1="372.5" y1="103.4" x2="372.5" y2="106.0" stroke="#262626" stroke-width="0.9" />
<line x1="390.2" y1="103.4" x2="390.2" y2="106.0" stroke="#262626" stroke-width="0.9" />
<line x1="372.5" y1="76.2" x2="372.5" y2="51.6" stroke="#8a8a8a" stroke-width="0.8" />
<line x1="372.5" y1="51.6" x2="390.7" y2="51.6" stroke="#8a8a8a" stroke-width="0.8" />
<line x1="390.7" y1="51.6" x2="390.7" y2="54.7" stroke="#8a8a8a" stroke-width="0.8" />
<circle cx="378.15" cy="48.0" r="0.8" fill="#222"/>
<circle cx="380.45" cy="48.0" r="0.8" fill="#222"/>
<circle cx="382.75" cy="48.0" r="0.8" fill="#222"/>
<circle cx="385.05" cy="48.0" r="0.8" fill="#222"/>
<path d="M390.7,59.2 C391.0,60.6 391.5,61.2 392.9,62.2 C394.9,63.4 396.3,64.2 396.3,65.0 C395.9,66.4 393.9,68 392.9,70.5 C391.9,73.5 391.2,78 390.7,82.8 C390.2,78 389.5,73.5 388.5,70.5 C387.5,68 385.5,66.4 385.09999999999997,65.0 C385.09999999999997,64.2 386.5,63.4 388.5,62.2 C389.9,61.2 390.4,60.6 390.7,59.2 Z" fill="#fff" stroke="#c8143c" stroke-width="1.2" stroke-linejoin="round"/>
<line x1="372.5" y1="81.6" x2="372.5" y2="84.5" stroke="#1c4f7c" stroke-width="0.9" />
<line x1="371.3" y1="82.6" x2="373.7" y2="82.6" stroke="#1c4f7c" stroke-width="0.8" />
<ellipse cx="372.5" cy="85.7" rx="5.6" ry="1.5" fill="#5b8fc0" stroke="#1c4f7c" stroke-width="0.9"/>
<circle cx="372.5" cy="85.7" r="0.6" fill="#dfeaf5"/>
<text x="331.6" y="69.6" font-size="7.0" text-anchor="middle" font-weight="bold" fill="#222" transform="rotate(-90 331.6 69.6)" textLength="44.3" lengthAdjust="spacingAndGlyphs">Normalized mRNA</text>
<text x="341.7" y="70.2" font-size="7.0" text-anchor="middle" font-weight="bold" fill="#222" transform="rotate(-90 341.7 70.2)" textLength="45.6" lengthAdjust="spacingAndGlyphs">expression (RPKM)</text>
<g transform="translate(374.7 113.7) rotate(-45)">
<text x="0" y="0.0" font-size="6.2" text-anchor="end" fill="#222" stroke="#222" stroke-width="0.15">normal CD34+</text>
<text x="0.8" y="7.5" font-size="6.2" text-anchor="end" fill="#222" stroke="#222" stroke-width="0.15">cells (n = 13)</text>
</g>
<g transform="translate(394.4 112.6) rotate(-45)">
<text x="0" y="0.0" font-size="6.2" text-anchor="end" fill="#222" stroke="#222" stroke-width="0.15">Prior MPN</text>
<text x="0.8" y="7.8" font-size="6.2" text-anchor="end" fill="#222" stroke="#222" stroke-width="0.15">(n = 24)</text>
</g>
<text x="480" y="22.9" font-size="8.85" text-anchor="middle" font-weight="normal" fill="#222"  stroke="#222" stroke-width="0.05" textLength="69.23" lengthAdjust="spacingAndGlyphs">Expression of TLR4</text>
<text x="480" y="32.9" font-size="8.85" text-anchor="middle" font-weight="normal" fill="#222"  stroke="#222" stroke-width="0.05" textLength="43.17" lengthAdjust="spacingAndGlyphs">(BEAT AML)</text>
<line x1="459.3" y1="37.7" x2="459.3" y2="103.3" stroke="#262626" stroke-width="1.3" />
<line x1="456.3" y1="94.0" x2="459.3" y2="94.0" stroke="#262626" stroke-width="0.9" />
<text x="453.3" y="96.146" font-size="5.8" text-anchor="end" font-weight="normal" fill="#222"  stroke="#222" stroke-width="0.06">0</text>
<line x1="456.3" y1="76.2" x2="459.3" y2="76.2" stroke="#262626" stroke-width="0.9" />
<text x="453.3" y="78.346" font-size="5.8" text-anchor="end" font-weight="normal" fill="#222"  stroke="#222" stroke-width="0.06">5</text>
<line x1="456.3" y1="58.4" x2="459.3" y2="58.4" stroke="#262626" stroke-width="0.9" />
<text x="453.3" y="60.546" font-size="5.8" text-anchor="end" font-weight="normal" fill="#222"  stroke="#222" stroke-width="0.06">10</text>
<line x1="456.3" y1="40.6" x2="459.3" y2="40.6" stroke="#262626" stroke-width="0.9" />
<text x="453.3" y="42.746" font-size="5.8" text-anchor="end" font-weight="normal" fill="#222"  stroke="#222" stroke-width="0.06">15</text>
<line x1="459.3" y1="103.3" x2="500.5" y2="103.3" stroke="#262626" stroke-width="1.3" />
<line x1="470.7" y1="103.3" x2="470.7" y2="105.89999999999999" stroke="#262626" stroke-width="0.9" />
<line x1="488.6" y1="103.3" x2="488.6" y2="105.89999999999999" stroke="#262626" stroke-width="0.9" />
<line x1="461" y1="94.5" x2="500.5" y2="94.5" stroke="#a89484" stroke-width="0.8" stroke-dasharray="0.9 1.1"/>
<line x1="471" y1="67.8" x2="471" y2="50" stroke="#8a8a8a" stroke-width="0.8" />
<line x1="471" y1="50" x2="488.7" y2="50" stroke="#8a8a8a" stroke-width="0.8" />
<line x1="488.7" y1="50" x2="488.7" y2="54" stroke="#8a8a8a" stroke-width="0.8" />
<circle cx="477.50" cy="47.2" r="0.8" fill="#222"/>
<circle cx="479.80" cy="47.2" r="0.8" fill="#222"/>
<circle cx="482.10" cy="47.2" r="0.8" fill="#222"/>
<path d="M488.7,60.6 C489.09999999999997,64 490.3,67.5 494.5,71.9 C491.3,75 489.9,77 489.59999999999997,79.4 C489.59999999999997,81 490.5,82 490.3,83.6 C489.9,86 489.2,90 488.7,95.3 C488.2,90 487.5,86 487.09999999999997,83.6 C486.9,82 487.8,81 487.8,79.4 C487.5,77 486.09999999999997,75 482.9,71.9 C487.09999999999997,67.5 488.3,64 488.7,60.6 Z" fill="#fff" stroke="#c8143c" stroke-width="1.2" stroke-linejoin="round"/>
<line x1="464.8" y1="80.3" x2="476.4" y2="80.3" stroke="#173f68" stroke-width="1.5" />
<text x="430.40000000000003" y="69.6" font-size="7.0" text-anchor="middle" font-weight="bold" fill="#222" transform="rotate(-90 430.40000000000003 69.6)" textLength="44.3" lengthAdjust="spacingAndGlyphs">Normalized mRNA</text>
<text x="440.5" y="70.2" font-size="7.0" text-anchor="middle" font-weight="bold" fill="#222" transform="rotate(-90 440.5 70.2)" textLength="45.6" lengthAdjust="spacingAndGlyphs">expression (RPKM)</text>
<g transform="translate(472.9 113.7) rotate(-45)">
<text x="0" y="0.0" font-size="6.2" text-anchor="end" fill="#222" stroke="#222" stroke-width="0.15">normal CD34+</text>
<text x="0.8" y="7.5" font-size="6.2" text-anchor="end" fill="#222" stroke="#222" stroke-width="0.15">cells (n = 13)</text>
</g>
<g transform="translate(492.8 112.6) rotate(-45)">
<text x="0" y="0.0" font-size="6.2" text-anchor="end" fill="#222" stroke="#222" stroke-width="0.15">Prior MPN</text>
<text x="0.8" y="7.8" font-size="6.2" text-anchor="end" fill="#222" stroke="#222" stroke-width="0.15">(n = 24)</text>
</g>
<line x1="109.4" y1="208.5" x2="109.4" y2="280.6" stroke="#262626" stroke-width="1.5" />
<line x1="106.4" y1="280.9" x2="109.4" y2="280.9" stroke="#262626" stroke-width="0.9" />
<text x="103.4" y="283.268" font-size="6.4" text-anchor="end" font-weight="normal" fill="#222"  stroke="#222" stroke-width="0.06">50</text>
<line x1="106.4" y1="269.27" x2="109.4" y2="269.27" stroke="#262626" stroke-width="0.9" />
<text x="103.4" y="271.638" font-size="6.4" text-anchor="end" font-weight="normal" fill="#222"  stroke="#222" stroke-width="0.06">60</text>
<line x1="106.4" y1="257.64" x2="109.4" y2="257.64" stroke="#262626" stroke-width="0.9" />
<text x="103.4" y="260.008" font-size="6.4" text-anchor="end" font-weight="normal" fill="#222"  stroke="#222" stroke-width="0.06">70</text>
<line x1="106.4" y1="246.01" x2="109.4" y2="246.01" stroke="#262626" stroke-width="0.9" />
<text x="103.4" y="248.378" font-size="6.4" text-anchor="end" font-weight="normal" fill="#222"  stroke="#222" stroke-width="0.06">80</text>
<line x1="106.4" y1="234.37999999999997" x2="109.4" y2="234.37999999999997" stroke="#262626" stroke-width="0.9" />
<text x="103.4" y="236.74799999999996" font-size="6.4" text-anchor="end" font-weight="normal" fill="#222"  stroke="#222" stroke-width="0.06">90</text>
<line x1="106.4" y1="222.74999999999997" x2="109.4" y2="222.74999999999997" stroke="#262626" stroke-width="0.9" />
<text x="103.4" y="225.11799999999997" font-size="6.4" text-anchor="end" font-weight="normal" fill="#222"  stroke="#222" stroke-width="0.06">100</text>
<line x1="106.4" y1="211.11999999999998" x2="109.4" y2="211.11999999999998" stroke="#262626" stroke-width="0.9" />
<text x="103.4" y="213.48799999999997" font-size="6.4" text-anchor="end" font-weight="normal" fill="#222"  stroke="#222" stroke-width="0.06">110</text>
<line x1="109.2" y1="280.5" x2="205.7" y2="280.5" stroke="#262626" stroke-width="1.5" />
<line x1="120.2" y1="280.5" x2="120.2" y2="283.1" stroke="#262626" stroke-width="0.9" />
<line x1="145.3" y1="280.5" x2="145.3" y2="283.1" stroke="#262626" stroke-width="0.9" />
<line x1="170.1" y1="280.5" x2="170.1" y2="283.1" stroke="#262626" stroke-width="0.9" />
<line x1="194.8" y1="280.5" x2="194.8" y2="283.1" stroke="#262626" stroke-width="0.9" />
<text x="120.2" y="292.4" font-size="6.2" text-anchor="middle" font-weight="normal" fill="#222"  stroke="#222" stroke-width="0.06">0</text>
<text x="145.3" y="292.4" font-size="6.2" text-anchor="middle" font-weight="normal" fill="#222"  stroke="#222" stroke-width="0.06">5</text>
<text x="170.1" y="292.4" font-size="6.2" text-anchor="middle" font-weight="normal" fill="#222"  stroke="#222" stroke-width="0.06">20</text>
<text x="194.8" y="292.4" font-size="6.2" text-anchor="middle" font-weight="normal" fill="#222"  stroke="#222" stroke-width="0.06">30</text>
<text x="157.9" y="303.8" font-size="6.8" text-anchor="middle" font-weight="normal" fill="#222" textLength="61.8" lengthAdjust="spacingAndGlyphs" stroke="#222" stroke-width="0.25">µM, tasquinimod, 96 hrs</text>
<text x="76.6" y="242.3" font-size="7.0" text-anchor="middle" font-weight="bold" fill="#222" transform="rotate(-90 76.6 242.3)" textLength="36.6" lengthAdjust="spacingAndGlyphs">% Cell viability</text>
<text x="86.4" y="244.6" font-size="7.0" text-anchor="middle" font-weight="bold" fill="#222" transform="rotate(-90 86.4 244.6)" textLength="30.6" lengthAdjust="spacingAndGlyphs">(CellTiter Glo)</text>
<circle cx="114.10000000000001" cy="222.7" r="1.4" fill="#1a4a6a"/>
<circle cx="123.7" cy="222.7" r="1.4" fill="#c8143c"/>
<circle cx="115.2" cy="222.7" r="1.4" fill="#1a4a6a"/>
<circle cx="124.8" cy="222.7" r="1.4" fill="#c8143c"/>
<circle cx="116.2" cy="222.7" r="1.4" fill="#1a4a6a"/>
<circle cx="125.8" cy="222.7" r="1.4" fill="#c8143c"/>
<circle cx="117.3" cy="222.7" r="1.4" fill="#1a4a6a"/>
<circle cx="126.89999999999999" cy="222.7" r="1.4" fill="#c8143c"/>
<circle cx="139" cy="245.2" r="1.5" fill="#1e4f7e"/>
<circle cx="142.4" cy="244.5" r="1.5" fill="#1e4f7e"/>
<circle cx="142.4" cy="252.9" r="1.5" fill="#1e4f7e"/>
<circle cx="139" cy="255.5" r="1.5" fill="#1e4f7e"/>
<line x1="137.5" y1="248.9" x2="143.5" y2="248.9" stroke="#8fb3d9" stroke-width="0.8" />
<circle cx="148.4" cy="247" r="1.5" fill="#c8143c"/>
<circle cx="151.6" cy="248" r="1.5" fill="#c8143c"/>
<circle cx="149.7" cy="252.1" r="1.5" fill="#c8143c"/>
<circle cx="150.2" cy="246.6" r="1.5" fill="#c8143c"/>
<line x1="147.2" y1="248.6" x2="153.5" y2="248.6" stroke="#e58aa0" stroke-width="0.8" />
<circle cx="138.00" cy="238.8" r="0.8" fill="#222"/>
<circle cx="140.10" cy="238.8" r="0.8" fill="#222"/>
<circle cx="142.20" cy="238.8" r="0.8" fill="#222"/>
<circle cx="149.50" cy="240.3" r="0.8" fill="#222"/>
<circle cx="151.60" cy="240.3" r="0.8" fill="#222"/>
<circle cx="153.70" cy="240.3" r="0.8" fill="#222"/>
<circle cx="163.3" cy="262.5" r="1.5" fill="#1e4f7e"/>
<circle cx="165" cy="258" r="1.5" fill="#1e4f7e"/>
<circle cx="167.3" cy="262" r="1.5" fill="#1e4f7e"/>
<circle cx="164.4" cy="263.6" r="1.5" fill="#1e4f7e"/>
<line x1="162" y1="261.5" x2="169" y2="261.5" stroke="#8fb3d9" stroke-width="0.8" />
<circle cx="172.9" cy="251.8" r="1.5" fill="#c8143c"/>
<circle cx="176.3" cy="249.6" r="1.5" fill="#c8143c"/>
<circle cx="174.6" cy="256.9" r="1.5" fill="#c8143c"/>
<circle cx="174.2" cy="261.2" r="1.5" fill="#c8143c"/>
<line x1="171.8" y1="254.3" x2="178.3" y2="254.3" stroke="#c8143c" stroke-width="0.8" />
<circle cx="162.40" cy="254.1" r="0.8" fill="#222"/>
<circle cx="164.50" cy="254.1" r="0.8" fill="#222"/>
<circle cx="166.60" cy="254.1" r="0.8" fill="#222"/>
<circle cx="171.90" cy="244.7" r="0.8" fill="#222"/>
<circle cx="174.00" cy="244.7" r="0.8" fill="#222"/>
<circle cx="176.10" cy="244.7" r="0.8" fill="#222"/>
<circle cx="189.2" cy="256.9" r="1.5" fill="#1e4f7e"/>
<circle cx="189.2" cy="261.2" r="1.5" fill="#1e4f7e"/>
<circle cx="188.7" cy="269.5" r="1.5" fill="#1e4f7e"/>
<circle cx="191.8" cy="268.7" r="1.5" fill="#1e4f7e"/>
<line x1="189.2" y1="256.9" x2="189.2" y2="261.2" stroke="#1e4f7e" stroke-width="1.0" />
<line x1="186.5" y1="265.1" x2="192.5" y2="265.1" stroke="#1e4f7e" stroke-width="0.8" />
<circle cx="197.9" cy="256.3" r="1.5" fill="#c8143c"/>
<circle cx="201" cy="254.1" r="1.5" fill="#c8143c"/>
<circle cx="201.4" cy="261.4" r="1.5" fill="#c8143c"/>
<circle cx="197.7" cy="263.6" r="1.5" fill="#c8143c"/>
<line x1="196" y1="259.5" x2="203" y2="259.5" stroke="#e58aa0" stroke-width="0.8" />
<circle cx="187.70" cy="253.5" r="0.8" fill="#222"/>
<circle cx="189.80" cy="253.5" r="0.8" fill="#222"/>
<circle cx="191.90" cy="253.5" r="0.8" fill="#222"/>
<circle cx="197.40" cy="250.4" r="0.8" fill="#222"/>
<circle cx="199.50" cy="250.4" r="0.8" fill="#222"/>
<circle cx="201.60" cy="250.4" r="0.8" fill="#222"/>
<circle cx="172.5" cy="211.4" r="1.5" fill="#17505f"/>
<text x="177.2" y="213.6" font-size="6.5" text-anchor="start" font-weight="normal" fill="#222" textLength="15.0" lengthAdjust="spacingAndGlyphs" stroke="#222" stroke-width="0.05">SET2</text>
<circle cx="172.5" cy="220.8" r="1.5" fill="#b0103a"/>
<text x="177.2" y="223.0" font-size="6.5" text-anchor="start" font-weight="normal" fill="#222" textLength="27.2" lengthAdjust="spacingAndGlyphs" stroke="#222" stroke-width="0.05">HEL92.1.7</text>
<text x="288.1" y="188.8" font-size="8.8" text-anchor="middle" font-weight="normal" fill="#222"  stroke="#222" stroke-width="0.05" textLength="73.79" lengthAdjust="spacingAndGlyphs">PD, post-MPN sAML</text>
<text x="287.8" y="198.4" font-size="8.8" text-anchor="middle" font-weight="normal" fill="#222"  stroke="#222" stroke-width="0.05" textLength="23.34" lengthAdjust="spacingAndGlyphs">(n = 9)</text>
<line x1="241.7" y1="205.4" x2="241.7" y2="281.2" stroke="#262626" stroke-width="1.25" />
<line x1="238.7" y1="281.2" x2="241.7" y2="281.2" stroke="#262626" stroke-width="0.9" />
<text x="235.7" y="283.49399999999997" font-size="6.2" text-anchor="end" font-weight="normal" fill="#222"  stroke="#222" stroke-width="0.06">0</text>
<line x1="238.7" y1="263.09999999999997" x2="241.7" y2="263.09999999999997" stroke="#262626" stroke-width="0.9" />
<text x="235.7" y="265.39399999999995" font-size="6.2" text-anchor="end" font-weight="normal" fill="#222"  stroke="#222" stroke-width="0.06">10</text>
<line x1="238.7" y1="245.0" x2="241.7" y2="245.0" stroke="#262626" stroke-width="0.9" />
<text x="235.7" y="247.294" font-size="6.2" text-anchor="end" font-weight="normal" fill="#222"  stroke="#222" stroke-width="0.06">20</text>
<line x1="238.7" y1="226.89999999999998" x2="241.7" y2="226.89999999999998" stroke="#262626" stroke-width="0.9" />
<text x="235.7" y="229.194" font-size="6.2" text-anchor="end" font-weight="normal" fill="#222"  stroke="#222" stroke-width="0.06">30</text>
<line x1="238.7" y1="208.79999999999998" x2="241.7" y2="208.79999999999998" stroke="#262626" stroke-width="0.9" />
<text x="235.7" y="211.094" font-size="6.2" text-anchor="end" font-weight="normal" fill="#222"  stroke="#222" stroke-width="0.06">40</text>
<line x1="256.8" y1="261.6" x2="256.8" y2="263.1" stroke="#123f6e" stroke-width="0.8" />
<line x1="254.3" y1="261.6" x2="259.3" y2="261.6" stroke="#123f6e" stroke-width="0.8" />
<rect x="249.4" y="263.1" width="14.8" height="18.0" fill="#14558d" stroke="none" stroke-width="0"/>
<line x1="249.4" y1="263.40000000000003" x2="264.2" y2="263.40000000000003" stroke="#0e3863" stroke-width="0.6" />
<line x1="279.5" y1="238.4" x2="279.5" y2="243.1" stroke="#123f6e" stroke-width="0.8" />
<line x1="277.0" y1="238.4" x2="282.0" y2="238.4" stroke="#123f6e" stroke-width="0.8" />
<rect x="272.1" y="243.1" width="14.8" height="38.00000000000003" fill="#14558d" stroke="none" stroke-width="0"/>
<line x1="272.1" y1="243.4" x2="286.9" y2="243.4" stroke="#0e3863" stroke-width="0.6" />
<line x1="302.6" y1="234.4" x2="302.6" y2="237.9" stroke="#123f6e" stroke-width="0.8" />
<line x1="300.1" y1="234.4" x2="305.1" y2="234.4" stroke="#123f6e" stroke-width="0.8" />
<rect x="295.20000000000005" y="237.9" width="14.8" height="43.20000000000002" fill="#14558d" stroke="none" stroke-width="0"/>
<line x1="295.20000000000005" y1="238.20000000000002" x2="310.0" y2="238.20000000000002" stroke="#0e3863" stroke-width="0.6" />
<line x1="325.3" y1="229.3" x2="325.3" y2="233.8" stroke="#123f6e" stroke-width="0.8" />
<line x1="322.8" y1="229.3" x2="327.8" y2="229.3" stroke="#123f6e" stroke-width="0.8" />
<rect x="317.90000000000003" y="233.8" width="14.8" height="47.30000000000001" fill="#14558d" stroke="none" stroke-width="0"/>
<line x1="317.90000000000003" y1="234.10000000000002" x2="332.7" y2="234.10000000000002" stroke="#0e3863" stroke-width="0.6" />
<line x1="240.3" y1="281.1" x2="335.4" y2="281.1" stroke="#262626" stroke-width="1.25" />
<line x1="256.8" y1="281.1" x2="256.8" y2="283.70000000000005" stroke="#262626" stroke-width="0.9" />
<line x1="279.5" y1="281.1" x2="279.5" y2="283.70000000000005" stroke="#262626" stroke-width="0.9" />
<line x1="302.6" y1="281.1" x2="302.6" y2="283.70000000000005" stroke="#262626" stroke-width="0.9" />
<line x1="325.3" y1="281.1" x2="325.3" y2="283.70000000000005" stroke="#262626" stroke-width="0.9" />
<text x="256.5" y="291.8" font-size="6.2" text-anchor="middle" font-weight="normal" fill="#222"  stroke="#222" stroke-width="0.06">0</text>
<text x="279.5" y="291.8" font-size="6.2" text-anchor="middle" font-weight="normal" fill="#222"  stroke="#222" stroke-width="0.06">5</text>
<text x="302.2" y="291.8" font-size="6.2" text-anchor="middle" font-weight="normal" fill="#222"  stroke="#222" stroke-width="0.06">20</text>
<text x="325" y="291.8" font-size="6.2" text-anchor="middle" font-weight="normal" fill="#222"  stroke="#222" stroke-width="0.06">30</text>
<text x="288" y="304.2" font-size="6.8" text-anchor="middle" font-weight="normal" fill="#222" textLength="62.3" lengthAdjust="spacingAndGlyphs" stroke="#222" stroke-width="0.25">µM, tasquinimod, 72 hrs</text>
<text x="223.4" y="243.3" font-size="7.4" text-anchor="middle" font-weight="normal" fill="#222" transform="rotate(-90 223.4 243.3)" textLength="46.3" lengthAdjust="spacingAndGlyphs" stroke="#222" stroke-width="0.15">% Non-viable cells</text>
<line x1="254.7" y1="208.3" x2="325.2" y2="208.3" stroke="#8c8c8c" stroke-width="1.2" />
<line x1="254.7" y1="205.9" x2="254.7" y2="210.70000000000002" stroke="#8c8c8c" stroke-width="1.0" />
<line x1="325.2" y1="205.9" x2="325.2" y2="210.70000000000002" stroke="#8c8c8c" stroke-width="1.0" />
<circle cx="285.90" cy="205.3" r="0.8" fill="#222"/>
<circle cx="288.10" cy="205.3" r="0.8" fill="#222"/>
<circle cx="290.30" cy="205.3" r="0.8" fill="#222"/>
<circle cx="292.50" cy="205.3" r="0.8" fill="#222"/>
<line x1="254.7" y1="218.3" x2="302.6" y2="218.3" stroke="#8c8c8c" stroke-width="1.2" />
<line x1="254.7" y1="215.9" x2="254.7" y2="220.70000000000002" stroke="#8c8c8c" stroke-width="1.0" />
<line x1="302.6" y1="215.9" x2="302.6" y2="220.70000000000002" stroke="#8c8c8c" stroke-width="1.0" />
<circle cx="273.70" cy="215.4" r="0.8" fill="#222"/>
<circle cx="275.90" cy="215.4" r="0.8" fill="#222"/>
<circle cx="278.10" cy="215.4" r="0.8" fill="#222"/>
<circle cx="280.30" cy="215.4" r="0.8" fill="#222"/>
<line x1="254.7" y1="231.5" x2="278.9" y2="231.5" stroke="#8c8c8c" stroke-width="1.2" />
<line x1="254.7" y1="229.1" x2="254.7" y2="233.9" stroke="#8c8c8c" stroke-width="1.0" />
<line x1="278.9" y1="229.1" x2="278.9" y2="233.9" stroke="#8c8c8c" stroke-width="1.0" />
<circle cx="264.80" cy="228.5" r="0.8" fill="#222"/>
<circle cx="267.00" cy="228.5" r="0.8" fill="#222"/>
<circle cx="269.20" cy="228.5" r="0.8" fill="#222"/>
<text x="406.9" y="188.8" font-size="8.8" text-anchor="middle" font-weight="normal" fill="#222"  stroke="#222" stroke-width="0.05" textLength="76.24" lengthAdjust="spacingAndGlyphs">Normal CD34+ HPCs</text>
<text x="406.4" y="198.4" font-size="8.8" text-anchor="middle" font-weight="normal" fill="#222"  stroke="#222" stroke-width="0.05" textLength="23.34" lengthAdjust="spacingAndGlyphs">(n = 3)</text>
<line x1="376.0" y1="205.4" x2="376.0" y2="280.8" stroke="#262626" stroke-width="1.2" />
<line x1="373.7" y1="281.2" x2="376.0" y2="281.2" stroke="#262626" stroke-width="0.9" />
<text x="371.2" y="283.49399999999997" font-size="6.2" text-anchor="end" font-weight="normal" fill="#222"  stroke="#222" stroke-width="0.06">0</text>
<line x1="373.7" y1="263.22499999999997" x2="376.0" y2="263.22499999999997" stroke="#262626" stroke-width="0.9" />
<text x="371.2" y="265.51899999999995" font-size="6.2" text-anchor="end" font-weight="normal" fill="#222"  stroke="#222" stroke-width="0.06">10</text>
<line x1="373.7" y1="245.25" x2="376.0" y2="245.25" stroke="#262626" stroke-width="0.9" />
<text x="371.2" y="247.544" font-size="6.2" text-anchor="end" font-weight="normal" fill="#222"  stroke="#222" stroke-width="0.06">20</text>
<line x1="373.7" y1="227.27499999999998" x2="376.0" y2="227.27499999999998" stroke="#262626" stroke-width="0.9" />
<text x="371.2" y="229.569" font-size="6.2" text-anchor="end" font-weight="normal" fill="#222"  stroke="#222" stroke-width="0.06">30</text>
<line x1="373.7" y1="209.29999999999998" x2="376.0" y2="209.29999999999998" stroke="#262626" stroke-width="0.9" />
<text x="371.2" y="211.594" font-size="6.2" text-anchor="end" font-weight="normal" fill="#222"  stroke="#222" stroke-width="0.06">40</text>
<line x1="387.4" y1="269.6" x2="387.4" y2="272.4" stroke="#123f6e" stroke-width="0.8" />
<line x1="384.9" y1="269.6" x2="389.9" y2="269.6" stroke="#123f6e" stroke-width="0.8" />
<rect x="381.9" y="272.4" width="11" height="8.100000000000023" fill="#14558d" stroke="none" stroke-width="0"/>
<line x1="381.9" y1="272.7" x2="392.9" y2="272.7" stroke="#0e3863" stroke-width="0.6" />
<line x1="403.9" y1="267.1" x2="403.9" y2="272.1" stroke="#123f6e" stroke-width="0.8" />
<line x1="401.4" y1="267.1" x2="406.4" y2="267.1" stroke="#123f6e" stroke-width="0.8" />
<rect x="398.4" y="272.1" width="11" height="8.399999999999977" fill="#14558d" stroke="none" stroke-width="0"/>
<line x1="398.4" y1="272.40000000000003" x2="409.4" y2="272.40000000000003" stroke="#0e3863" stroke-width="0.6" />
<line x1="420.5" y1="264.4" x2="420.5" y2="268.1" stroke="#123f6e" stroke-width="0.8" />
<line x1="418.0" y1="264.4" x2="423.0" y2="264.4" stroke="#123f6e" stroke-width="0.8" />
<rect x="415.0" y="268.1" width="11" height="12.399999999999977" fill="#14558d" stroke="none" stroke-width="0"/>
<line x1="415.0" y1="268.40000000000003" x2="426.0" y2="268.40000000000003" stroke="#0e3863" stroke-width="0.6" />
<line x1="437.5" y1="261.3" x2="437.5" y2="264.2" stroke="#123f6e" stroke-width="0.8" />
<line x1="435.0" y1="261.3" x2="440.0" y2="261.3" stroke="#123f6e" stroke-width="0.8" />
<rect x="432.0" y="264.2" width="11" height="16.30000000000001" fill="#14558d" stroke="none" stroke-width="0"/>
<line x1="432.0" y1="264.5" x2="443.0" y2="264.5" stroke="#0e3863" stroke-width="0.6" />
<line x1="375.8" y1="280.8" x2="448.5" y2="280.8" stroke="#262626" stroke-width="1.2" />
<line x1="387.4" y1="280.8" x2="387.4" y2="283.40000000000003" stroke="#262626" stroke-width="0.9" />
<line x1="403.9" y1="280.8" x2="403.9" y2="283.40000000000003" stroke="#262626" stroke-width="0.9" />
<line x1="420.5" y1="280.8" x2="420.5" y2="283.40000000000003" stroke="#262626" stroke-width="0.9" />
<line x1="437.5" y1="280.8" x2="437.5" y2="283.40000000000003" stroke="#262626" stroke-width="0.9" />
<text x="387.3" y="292.4" font-size="6.2" text-anchor="middle" font-weight="normal" fill="#222"  stroke="#222" stroke-width="0.06" textLength="3.97" lengthAdjust="spacingAndGlyphs">0</text>
<text x="404.4" y="292.4" font-size="6.2" text-anchor="middle" font-weight="normal" fill="#222"  stroke="#222" stroke-width="0.06" textLength="3.97" lengthAdjust="spacingAndGlyphs">5</text>
<text x="420.8" y="292.4" font-size="6.2" text-anchor="middle" font-weight="normal" fill="#222"  stroke="#222" stroke-width="0.06" textLength="7.93" lengthAdjust="spacingAndGlyphs">20</text>
<text x="436.6" y="292.4" font-size="6.2" text-anchor="middle" font-weight="normal" fill="#222"  stroke="#222" stroke-width="0.06" textLength="7.93" lengthAdjust="spacingAndGlyphs">30</text>
<text x="410.2" y="303.8" font-size="6.8" text-anchor="middle" font-weight="normal" fill="#222" textLength="62.7" lengthAdjust="spacingAndGlyphs" stroke="#222" stroke-width="0.25">µM, tasquinimod, 72 hrs</text>
<text x="358.6" y="243.0" font-size="7.4" text-anchor="middle" font-weight="normal" fill="#222" transform="rotate(-90 358.6 243.0)" textLength="46.5" lengthAdjust="spacingAndGlyphs" stroke="#222" stroke-width="0.15">% Non-viable cells</text>
<line x1="387.4" y1="233.3" x2="437.5" y2="233.3" stroke="#8c8c8c" stroke-width="1.2" />
<line x1="387.4" y1="230.9" x2="387.4" y2="235.70000000000002" stroke="#8c8c8c" stroke-width="1.0" />
<line x1="437.5" y1="230.9" x2="437.5" y2="235.70000000000002" stroke="#8c8c8c" stroke-width="1.0" />
<text x="412.2" y="228.8" font-size="6.4" text-anchor="middle" font-weight="normal" fill="#333"  stroke="#333" stroke-width="0.12">ns</text>
<line x1="387.4" y1="248.5" x2="420.5" y2="248.5" stroke="#8c8c8c" stroke-width="1.2" />
<line x1="387.4" y1="246.1" x2="387.4" y2="250.9" stroke="#8c8c8c" stroke-width="1.0" />
<line x1="420.5" y1="246.1" x2="420.5" y2="250.9" stroke="#8c8c8c" stroke-width="1.0" />
<text x="404.2" y="244.7" font-size="6.4" text-anchor="middle" font-weight="normal" fill="#333"  stroke="#333" stroke-width="0.12">ns</text>
<line x1="387.4" y1="261.5" x2="403.9" y2="261.5" stroke="#8c8c8c" stroke-width="1.2" />
<line x1="387.4" y1="259.1" x2="387.4" y2="263.9" stroke="#8c8c8c" stroke-width="1.0" />
<line x1="403.9" y1="259.1" x2="403.9" y2="263.9" stroke="#8c8c8c" stroke-width="1.0" />
<text x="396.2" y="257.0" font-size="6.4" text-anchor="middle" font-weight="normal" fill="#333"  stroke="#333" stroke-width="0.12">ns</text>
<rect x="0.5" y="0.5" width="519" height="310" fill="none" stroke="#6e6e6e" stroke-width="1"/>
</svg>
</body></html>
